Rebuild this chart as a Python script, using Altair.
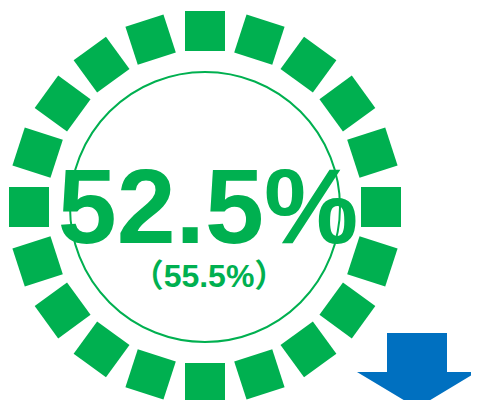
import altair as alt
import pandas as pd

# ---- data ----
ring_angles = [0, 18, 36, 54, 72, 90, 108, 126, 144, 162,
               180, 198, 216, 234, 252, 270, 288, 306, 324, 342]
main_value = ["52.5%"]
sub_value = ["（55.5%）"]
trend = ["down"]

# ---- styling / geometry (pixel coordinates of the picture) ----
GREEN = "#00B050"
BLUE = "#0070C0"
CX, CY = 205, 207
R_RING = 176
SQUARE = 40
R_INNER = 135
W, H = 463, 392

xs = alt.Scale(domain=[8, 8 + W], nice=False, zero=False)
ys = alt.Scale(domain=[8 + H, 8], nice=False, zero=False)

ring = alt.Chart(pd.DataFrame({"angle": ring_angles})).transform_calculate(
    px=f"{CX} + {R_RING} * sin(datum.angle * PI / 180)",
    py=f"{CY} - {R_RING} * cos(datum.angle * PI / 180)",
).mark_point(shape="square", filled=True, opacity=1, color=GREEN,
             size=SQUARE ** 2).encode(
    x=alt.X("px:Q", scale=xs, axis=None),
    y=alt.Y("py:Q", scale=ys, axis=None),
    angle=alt.Angle("angle:Q", scale=None),
)

inner = alt.Chart(pd.DataFrame({"px": [CX], "py": [CY]})).mark_point(
    shape="circle", filled=False, opacity=1, color=GREEN, strokeWidth=2,
    size=(2 * R_INNER) ** 2,
).encode(
    x=alt.X("px:Q", scale=xs, axis=None),
    y=alt.Y("py:Q", scale=ys, axis=None),
)

main_text = alt.Chart(pd.DataFrame({"t": main_value, "px": [208], "py": [243]})).mark_text(
    font="Liberation Sans", fontWeight="bold", fontSize=106, color=GREEN,
    align="center", baseline="alphabetic",
).encode(
    x=alt.X("px:Q", scale=xs, axis=None),
    y=alt.Y("py:Q", scale=ys, axis=None),
    text="t:N",
)

sub_text = alt.Chart(pd.DataFrame({"t": sub_value, "px": [209], "py": [287]})).mark_text(
    font="Liberation Sans, Noto Sans CJK JP", fontWeight="bold", fontSize=32, color=GREEN,
    align="center", baseline="alphabetic",
).encode(
    x=alt.X("px:Q", scale=xs, axis=None),
    y=alt.Y("py:Q", scale=ys, axis=None),
    text="t:N",
)

ARROW_PATH = ("M-0.5,-0.625 L0.5,-0.625 L0.5,0.025 L1,0.025 "
              "L0,0.625 L-1,0.025 L-0.5,0.025 Z")
arrow = alt.Chart(pd.DataFrame({"dir": trend, "px": [417], "py": [370.5]})).mark_point(
    shape=ARROW_PATH, filled=True, opacity=1, color=BLUE, size=120 ** 2,
).encode(
    x=alt.X("px:Q", scale=xs, axis=None),
    y=alt.Y("py:Q", scale=ys, axis=None),
)

chart = alt.layer(ring, inner, main_text, sub_text, arrow).properties(
    width=W, height=H, padding=0, autosize="none", background="white",
).configure_view(stroke=None)

chart.save("out.html", embed_options={"renderer": "svg", "actions": False})
